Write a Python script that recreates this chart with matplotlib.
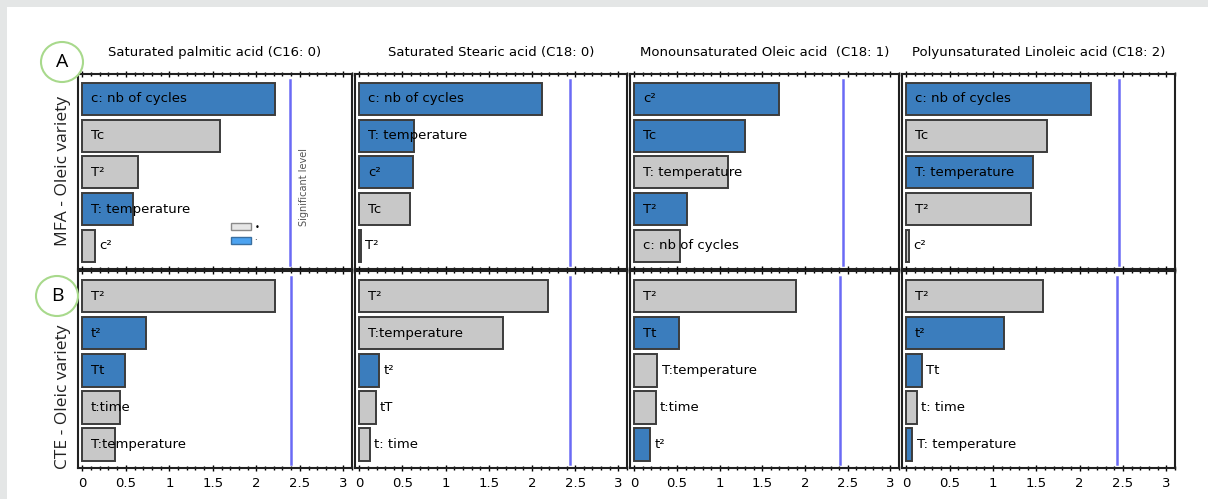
import matplotlib
matplotlib.use("Agg")
import matplotlib.pyplot as plt
from matplotlib.patches import Patch, Rectangle, Ellipse
from matplotlib.ticker import MultipleLocator

plt.rcParams['font.family'] = ['DejaVu Sans']

W, H = 1208, 499

# panel titles (one per column)
titles = ["Saturated palmitic acid (C16: 0)",
          "Saturated Stearic acid (C18: 0)",
          "Monounsaturated Oleic acid  (C18: 1)",
          "Polyunsaturated Linoleic acid (C18: 2)"]

# MFA rows (top), bars listed from top to bottom
mfa_labels = [["c: nb of cycles", "Tc", "T²", "T: temperature", "c²"],
              ["c: nb of cycles", "T: temperature", "c²", "Tc", "T²"],
              ["c²", "Tc", "T: temperature", "T²", "c: nb of cycles"],
              ["c: nb of cycles", "Tc", "T: temperature", "T²", "c²"]]
mfa_values = [[2.22, 1.58, 0.64, 0.58, 0.14],
              [2.12, 0.63, 0.62, 0.59, 0.02],
              [1.70, 1.30, 1.10, 0.62, 0.54],
              [2.13, 1.62, 1.46, 1.44, 0.03]]
mfa_positive = [[1, 0, 0, 1, 0],
                [1, 1, 1, 0, 0],
                [1, 1, 0, 1, 0],
                [1, 0, 1, 0, 0]]
mfa_signif = [2.39, 2.44, 2.44, 2.45]

# CTE rows (bottom)
cte_labels = [["T²", "t²", "Tt", "t:time", "T:temperature"],
              ["T²", "T:temperature", "t²", "tT", "t: time"],
              ["T²", "Tt", "T:temperature", "t:time", "t²"],
              ["T²", "t²", "Tt", "t: time", "T: temperature"]]
cte_values = [[2.22, 0.73, 0.49, 0.43, 0.38],
              [2.19, 1.66, 0.23, 0.19, 0.12],
              [1.89, 0.52, 0.27, 0.25, 0.19],
              [1.58, 1.13, 0.18, 0.12, 0.07]]
cte_positive = [[0, 1, 1, 0, 0],
                [0, 0, 1, 0, 0],
                [0, 1, 0, 0, 1],
                [0, 1, 1, 0, 1]]
cte_signif = [2.40, 2.44, 2.41, 2.43]

row_names = ["MFA - Oleic variety", "CTE - Oleic variety"]

blue = "#3b7dbd"
grey = "#c8c8c8"
edge = "#3c3c3c"

fig = plt.figure(figsize=(W / 100, H / 100), dpi=100)
fig.patch.set_facecolor("#e4e6e6")
fig.add_artist(Rectangle((7 / W, 0), 1, 1 - 7 / H, transform=fig.transFigure,
                         facecolor="white", edgecolor="none", zorder=-10))

col_px = [(78, 352), (355, 627), (630, 899), (902, 1175)]
row_px = [(74, 269), (271, 468)]


def draw_panel(ax, labels, values, positive, signif, show_xlabels):
    ypos = range(len(values))
    colors = [blue if p else grey for p in positive]
    ax.barh(ypos, values, height=0.87, color=colors, edgecolor=edge, linewidth=1.4)
    for y, v, lab in zip(ypos, values, labels):
        x = v + 0.05 if v < 0.3 else 0.1
        ax.text(x, y, lab, va="center", ha="left", fontsize=9.5, color="black")
    ax.axvline(signif, ymin=0.02, ymax=0.97, color="#6a6af5", lw=1.8)
    ax.set_xlim(-0.05, 3.1)
    ax.set_ylim(4.63, -0.68)
    ax.set_yticks([])
    ax.xaxis.set_major_locator(MultipleLocator(0.5))
    ax.xaxis.set_minor_locator(MultipleLocator(0.1))
    ax.tick_params(axis="x", which="both", top=True, bottom=True, direction="inout",
                   width=1, labelsize=9.5, pad=4)
    ax.tick_params(axis="x", which="major", length=5)
    ax.tick_params(axis="x", which="minor", length=2.5)
    if show_xlabels:
        ax.set_xticks([0, 0.5, 1, 1.5, 2, 2.5, 3])
        ax.set_xticklabels(["0", "0.5", "1", "1.5", "2", "2.5", "3"])
    else:
        ax.tick_params(axis="x", labelbottom=False)
    for s in ax.spines.values():
        s.set_linewidth(1.5)
        s.set_color("#202020")


axes_top = []
for r, (labels_set, values_set, pos_set, sig_set) in enumerate(
        [(mfa_labels, mfa_values, mfa_positive, mfa_signif),
         (cte_labels, cte_values, cte_positive, cte_signif)]):
    y0, y1 = row_px[r]
    for c in range(4):
        x0, x1 = col_px[c]
        ax = fig.add_axes([x0 / W, 1 - y1 / H, (x1 - x0) / W, (y1 - y0) / H])
        draw_panel(ax, labels_set[c], values_set[c], pos_set[c], sig_set[c], r == 1)
        if r == 0:
            ax.set_title(titles[c], fontsize=9.5, pad=13)
            axes_top.append(ax)

# legend and significance note in first panel
ax0 = axes_top[0]
handles = [Patch(facecolor="#e6e6e6", edgecolor="#8a8a8a"),
           Patch(facecolor="#4da3f0", edgecolor="#3a6fa0")]
ax0.legend(handles, ["•", "·"], loc="center", bbox_to_anchor=(0.61, 0.18),
           fontsize=6, frameon=False, handlelength=2.4, handleheight=0.9,
           labelspacing=0.55, handletextpad=0.4)
ax0.text(2.55, 0.42, "Significant level", rotation=90, fontsize=7, color="#555555",
         ha="center", va="center", transform=ax0.get_xaxis_transform())

# row labels
fig.text(63 / W, 1 - 171 / H, row_names[0], rotation=90, ha="center", va="center",
         fontsize=12.5, family=["Open Sans", "DejaVu Sans"], color="#222222")
fig.text(63 / W, 1 - 397 / H, row_names[1], rotation=90, ha="center", va="center",
         fontsize=12.5, family=["Open Sans", "DejaVu Sans"], color="#222222")

# circled letters
for letter, cx, cy in [("A", 62, 62), ("B", 57, 296)]:
    fig.add_artist(Ellipse((cx / W, 1 - cy / H), 42 / W, 40 / H, transform=fig.transFigure,
                           fill=True, facecolor="white", edgecolor="#a8d98c", lw=1.5, zorder=5))
    fig.text(cx / W, 1 - cy / H, letter, ha="center", va="center", fontsize=14,
             family=["Open Sans", "DejaVu Sans"], zorder=6)

fig.savefig("out.png", dpi=100)
